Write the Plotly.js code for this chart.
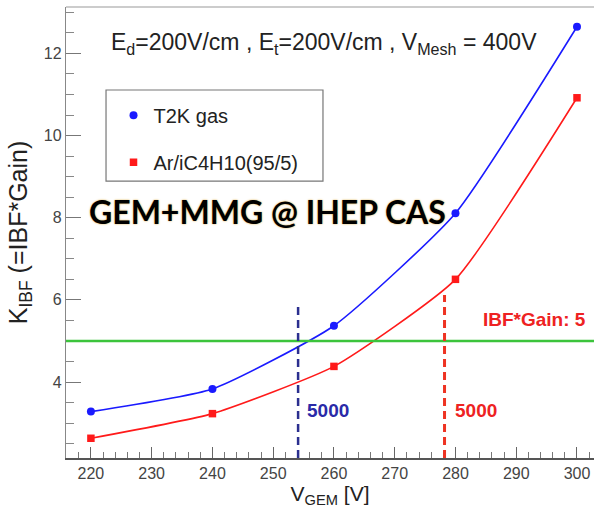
<!DOCTYPE html>
<html>
<head>
<meta charset="utf-8">
<script src="https://cdn.plot.ly/plotly-3.0.1.min.js"></script>
<style>html,body{margin:0;padding:0;background:#fff;}</style>
</head>
<body>
<div id="chart" style="width:594px;height:510px;"></div>
<script>
// ---- data ----
const vGem = [220, 240, 260, 280, 300];
const kT2K = [3.28, 3.83, 5.37, 8.11, 12.65];
const kAr = [2.63, 3.23, 4.38, 6.50, 10.92];
const seriesNames = ['T2K gas', 'Ar/iC4H10(95/5)'];
const thresholdK = [5];
const gain5000X = [254.1, 278.2];
const gain5000Top = [5.85, 6.12];
const gainLabels = ['5000', '5000'];
const xRange = [215.9, 302.8];
const yRange = [2.15, 13.13];

const blue = '#1a1aff';
const red = '#ff1a1a';
const font = 'Liberation Sans, Arial, sans-serif';

const traces = [
  {x: vGem, y: kT2K, mode: 'lines', line: {shape: 'spline', smoothing: 0.5, color: blue, width: 1.6}, showlegend: false, hoverinfo: 'skip'},
  {x: vGem, y: kAr, mode: 'lines', line: {shape: 'spline', smoothing: 0.5, color: red, width: 1.6}, showlegend: false, hoverinfo: 'skip'},
  {x: vGem, y: kT2K, mode: 'markers', name: seriesNames[0], legendgroup: 'a', marker: {symbol: 'circle', size: 8, color: blue}},
  {x: vGem, y: kAr, mode: 'markers', name: seriesNames[1], legendgroup: 'b', marker: {symbol: 'square', size: 7.5, color: red}}
];

const dashColors = ['#2b2f8f', '#ee3322'];
const shapes = [
  {type: 'line', xref: 'paper', x0: 0, x1: 1, yref: 'y', y0: thresholdK[0], y1: thresholdK[0], line: {color: '#3cc43c', width: 2.5}},
  {type: 'line', xref: 'x', x0: gain5000X[0], x1: gain5000X[0], yref: 'y', y0: yRange[0], y1: gain5000Top[0], line: {color: dashColors[0], width: 2.5, dash: '8px,5px'}},
  {type: 'line', xref: 'x', x0: gain5000X[1], x1: gain5000X[1], yref: 'y', y0: yRange[0], y1: gain5000Top[1], line: {color: dashColors[1], width: 3, dash: '8px,5px'}},
  // top frame
  {type: 'line', xref: 'paper', x0: 0, x1: 1, yref: 'paper', y0: 1, y1: 1, line: {color: '#999', width: 1.2}},
  // legend box
  {type: 'rect', xref: 'paper', yref: 'paper', x0: 0.0758, x1: 0.4867, y0: 0.614, y1: 0.816, line: {color: '#777', width: 1.2}, fillcolor: 'rgba(0,0,0,0)'}
];

const annotations = [
  {xref: 'paper', yref: 'paper', x: 0.081, y: 0.919, xanchor: 'left', yanchor: 'middle', showarrow: false,
   text: 'E<sub>d</sub>=200V/cm , E<sub>t</sub>=200V/cm , V<sub>Mesh</sub> = 400V', font: {family: font, size: 23, color: '#222'}},
  {xref: 'paper', yref: 'paper', x: 0.04, y: 0.547, xanchor: 'left', yanchor: 'middle', showarrow: false,
   text: '<b>GEM+MMG @ IHEP CAS</b>', font: {family: 'Lato, sans-serif', size: 32, color: '#000', shadow: '0px 0px 2px #d9a634'}},
  {xref: 'x', yref: 'y', x: 255.2, y: 3.3, xanchor: 'left', yanchor: 'middle', showarrow: false,
   text: '<b>' + gainLabels[0] + '</b>', font: {family: font, size: 19, color: '#2a2aa8'}},
  {xref: 'x', yref: 'y', x: 279.6, y: 3.3, xanchor: 'left', yanchor: 'middle', showarrow: false,
   text: '<b>' + gainLabels[1] + '</b>', font: {family: font, size: 19, color: '#ee2222'}},
  {xref: 'paper', yref: 'y', x: 0.988, y: 5.53, xanchor: 'right', yanchor: 'middle', showarrow: false,
   text: '<b>IBF*Gain: ' + thresholdK[0] + '</b>', font: {family: font, size: 19, color: '#ee2222'}}
];

const layout = {
  width: 594, height: 510,
  margin: {l: 66, r: 0, t: 7, b: 52},
  paper_bgcolor: '#fff', plot_bgcolor: '#fff',
  font: {family: font, color: '#333'},
  showlegend: true,
  legend: {x: 0.09, y: 0.803, xanchor: 'left', yanchor: 'top', bgcolor: 'rgba(0,0,0,0)', borderwidth: 0,
           font: {family: font, size: 20, color: '#222'}, traceorder: 'grouped', tracegroupgap: 18},
  xaxis: {
    range: xRange, showgrid: false, zeroline: false,
    showline: true, linecolor: '#555', linewidth: 1.5,
    ticks: 'inside', ticklen: 11, tickcolor: '#666', tickwidth: 1,
    tick0: 220, dtick: 10,
    minor: {dtick: 2, ticks: 'inside', ticklen: 6, tickcolor: '#777', showgrid: false},
    tickfont: {family: font, size: 16, color: '#444'},
    title: {text: 'V<sub>GEM</sub> [V]', font: {family: font, size: 21, color: '#222'}, standoff: 5}
  },
  yaxis: {
    range: yRange, showgrid: false, zeroline: false,
    showline: true, linecolor: '#888', linewidth: 1.2,
    ticks: 'inside', ticklen: 15, tickcolor: '#777', tickwidth: 1,
    tick0: 0, dtick: 2,
    minor: {dtick: 0.5, ticks: 'inside', ticklen: 8, tickcolor: '#888', showgrid: false},
    tickfont: {family: font, size: 16, color: '#444'},
    title: {text: 'K<sub>IBF</sub> (=IBF*Gain)', font: {family: font, size: 25, color: '#222'}, standoff: 9}
  },
  shapes: shapes,
  annotations: annotations
};

Plotly.newPlot('chart', traces, layout, {displayModeBar: false, staticPlot: true});
</script>
</body>
</html>
